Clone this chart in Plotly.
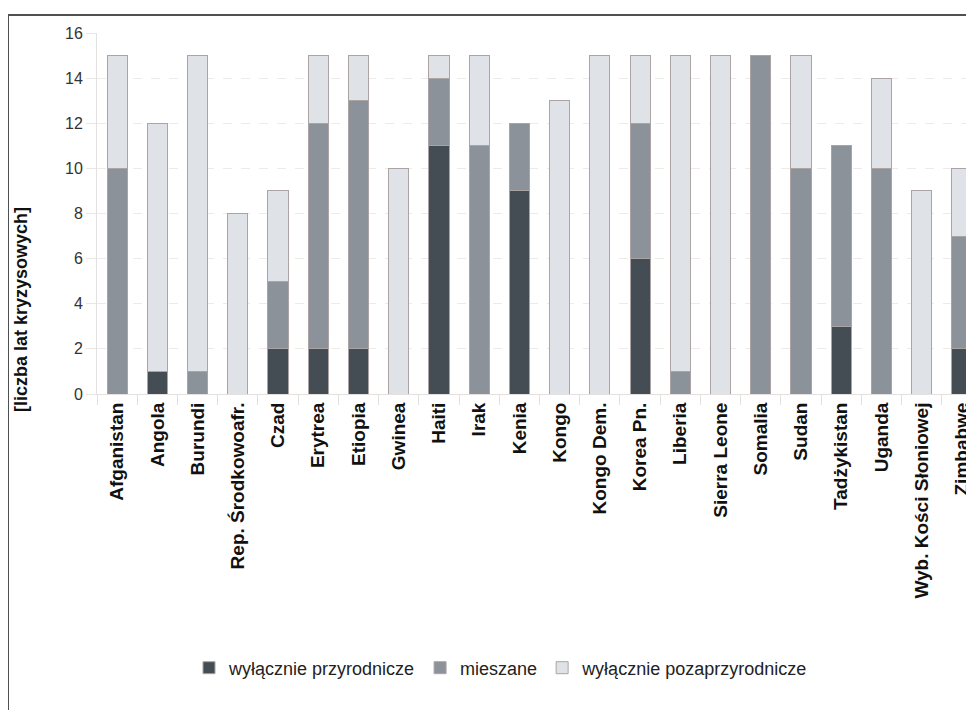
import plotly.graph_objects as go

countries = ["Afganistan", "Angola", "Burundi", "Rep. Środkowoafr.", "Czad", "Erytrea",
             "Etiopia", "Gwinea", "Haiti", "Irak", "Kenia", "Kongo", "Kongo Dem.",
             "Korea Pn.", "Liberia", "Sierra Leone", "Somalia", "Sudan", "Tadżykistan",
             "Uganda", "Wyb. Kości Słoniowej", "Zimbabwe"]
przyrodnicze = [0, 1, 0, 0, 2, 2, 2, 0, 11, 0, 9, 0, 0, 6, 0, 0, 0, 0, 3, 0, 0, 2]
mieszane = [10, 0, 1, 0, 3, 10, 11, 0, 3, 11, 3, 0, 0, 6, 1, 0, 15, 10, 8, 10, 0, 5]
pozaprzyrodnicze = [5, 11, 14, 8, 4, 3, 2, 10, 1, 4, 0, 13, 15, 3, 14, 15, 0, 5, 0, 4, 9, 3]
series_names = ["wyłącznie przyrodnicze", "mieszane", "wyłącznie pozaprzyrodnicze"]
y_ticks = [0, 2, 4, 6, 8, 10, 12, 14, 16]
y_title = "[liczba lat kryzysowych]"

colors = ["#454d54", "#8b9299", "#dfe3e7"]

# page is offset by the 8px body margin
OFF = 8
W, H = 974 - OFF, 710 - OFF
L, R, T, B = 97 - OFF, 0, 33 - OFF, 316
pw, ph = W - L - R, H - T - B

fig = go.Figure()
for name, vals, col in zip(series_names, [przyrodnicze, mieszane, pozaprzyrodnicze], colors):
    fig.add_trace(go.Bar(
        x=countries, y=[v if v else None for v in vals], name=name,
        width=0.5, marker=dict(color=col, line=dict(color="#aba4a2", width=1)),
    ))

def px_x(x):
    return (x - OFF - L) / pw

def px_y(y):
    return (H - B - (y - OFF)) / ph

fig.update_layout(
    width=W, height=H, barmode="stack",
    margin=dict(l=L, r=R, t=T, b=B),
    paper_bgcolor="white", plot_bgcolor="white",
    font=dict(family="Liberation Sans, Arial, sans-serif", color="#222"),
    showlegend=True,
    legend=dict(orientation="h", x=px_x(501), xanchor="center", y=px_y(668), yanchor="middle",
                font=dict(size=18, color="#222"), itemwidth=30, traceorder="normal"),
    xaxis=dict(range=[-0.5, 21.3], tickangle=-90, showgrid=False,
               tickfont=dict(size=19, color="#111", weight="bold",
                             family="Liberation Sans, Arial, sans-serif"),
               ticks="outside", tickson="boundaries", ticklen=10, tickcolor="#e4e0e0",
               showline=True, linecolor="#e4e0e0", linewidth=1),
    yaxis=dict(range=[0, 16], tickvals=y_ticks, showgrid=True, gridcolor="#eeeaea",
               griddash="dash", gridwidth=1, zeroline=False,
               tickfont=dict(size=16, color="#333"), ticks="outside", ticklen=10,
               tickcolor="#ebe6e6", showline=True, linecolor="#e4e0e0", linewidth=1),
    annotations=[dict(text=y_title, textangle=-90, xref="paper", yref="paper",
                      x=px_x(21), y=px_y(310), xanchor="center", yanchor="middle",
                      showarrow=False, font=dict(size=18, color="#111", weight="bold"))],
    shapes=[dict(type="line", xref="paper", yref="paper", x0=px_x(8), x1=px_x(990),
                 y0=px_y(15), y1=px_y(15), line=dict(color="#505050", width=2)),
            dict(type="line", xref="paper", yref="paper", x0=px_x(8), x1=px_x(8),
                 y0=px_y(15), y1=px_y(720), line=dict(color="#505050", width=2))],
)

fig.write_html("out.html")
